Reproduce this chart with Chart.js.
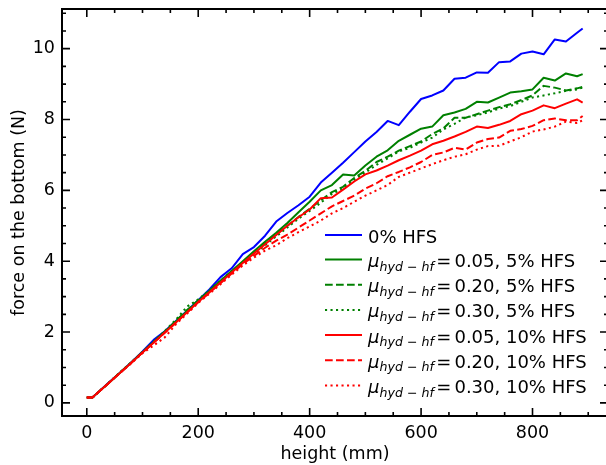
<!DOCTYPE html>
<html>
<head>
<meta charset="utf-8">
<script src="https://cdn.jsdelivr.net/npm/chart.js@4.4.0/dist/chart.umd.min.js"></script>
<style>
html, body { margin: 0; padding: 0; overflow: hidden; background: #fff; }
#wrap { width: 614px; height: 465px; }
</style>
</head>
<body>
<div id="wrap"><canvas id="chart" width="614" height="465"></canvas></div>
<script>
// heights (mm) shared by every curve
const heights = [0, 10, 20, 40, 60, 80, 100, 120, 140, 160, 180, 200, 220, 240, 260, 280,
  300, 320, 340, 360, 380, 400, 420, 440, 460, 480, 500, 520, 540, 560, 580,
  600, 620, 640, 660, 680, 700, 720, 740, 760, 780, 800, 820, 840, 860, 880, 890];

// force on the bottom (N)
const hfs0 = [0.15, 0.15, 0.29, 0.58, 0.86, 1.15, 1.45, 1.78, 2.02, 2.31, 2.60, 2.90, 3.20, 3.55, 3.80, 4.20,
  4.40, 4.72, 5.12, 5.36, 5.58, 5.82, 6.22, 6.50, 6.78, 7.08, 7.38, 7.65, 7.96, 7.84, 8.22,
  8.58, 8.68, 8.82, 9.15, 9.18, 9.33, 9.32, 9.62, 9.64, 9.86, 9.92, 9.84, 10.26, 10.20, 10.45, 10.57];
const mu05hfs5 = [0.15, 0.15, 0.29, 0.57, 0.86, 1.14, 1.43, 1.72, 2.01, 2.30, 2.59, 2.88, 3.16, 3.45, 3.72, 4.00,
  4.28, 4.55, 4.80, 5.08, 5.38, 5.68, 6.00, 6.15, 6.45, 6.42, 6.70, 6.95, 7.13, 7.40, 7.57,
  7.74, 7.80, 8.12, 8.20, 8.30, 8.50, 8.48, 8.62, 8.76, 8.80, 8.85, 9.18, 9.10, 9.30, 9.22, 9.28];
const mu20hfs5 = [0.15, 0.15, 0.29, 0.57, 0.86, 1.14, 1.43, 1.72, 2.01, 2.32, 2.62, 2.90, 3.16, 3.44, 3.70, 3.98,
  4.25, 4.50, 4.76, 5.00, 5.25, 5.48, 5.72, 5.95, 6.10, 6.35, 6.55, 6.80, 6.95, 7.12, 7.25,
  7.38, 7.59, 7.75, 8.05, 8.05, 8.15, 8.25, 8.35, 8.43, 8.55, 8.68, 8.95, 8.90, 8.82, 8.88, 8.92];
const mu30hfs5 = [0.15, 0.15, 0.29, 0.58, 0.87, 1.15, 1.44, 1.73, 2.03, 2.35, 2.72, 2.92, 3.18, 3.45, 3.72, 3.96,
  4.20, 4.45, 4.70, 4.95, 5.20, 5.42, 5.65, 5.90, 6.05, 6.30, 6.50, 6.72, 6.90, 7.10, 7.20,
  7.35, 7.49, 7.72, 7.88, 8.06, 8.12, 8.20, 8.31, 8.38, 8.50, 8.62, 8.68, 8.74, 8.81, 8.85, 8.90];
const mu05hfs10 = [0.15, 0.15, 0.29, 0.57, 0.85, 1.13, 1.42, 1.70, 1.99, 2.27, 2.56, 2.85, 3.12, 3.40, 3.68, 3.95,
  4.22, 4.48, 4.74, 5.00, 5.24, 5.46, 5.78, 5.80, 6.02, 6.25, 6.45, 6.56, 6.70, 6.85, 6.98,
  7.12, 7.30, 7.40, 7.52, 7.65, 7.80, 7.76, 7.85, 7.96, 8.15, 8.25, 8.40, 8.32, 8.45, 8.57, 8.48];
const mu20hfs10 = [0.15, 0.15, 0.29, 0.57, 0.85, 1.13, 1.42, 1.70, 1.98, 2.26, 2.55, 2.84, 3.11, 3.38, 3.65, 3.92,
  4.15, 4.38, 4.58, 4.75, 4.95, 5.15, 5.35, 5.55, 5.70, 5.85, 6.05, 6.20, 6.40, 6.52, 6.65,
  6.80, 7.00, 7.07, 7.20, 7.15, 7.35, 7.45, 7.49, 7.68, 7.73, 7.82, 7.98, 8.03, 7.98, 7.98, 8.10];
const mu30hfs10 = [0.15, 0.15, 0.29, 0.57, 0.85, 1.12, 1.40, 1.62, 1.85, 2.22, 2.52, 2.82, 3.08, 3.35, 3.62, 3.88,
  4.10, 4.30, 4.45, 4.65, 4.82, 4.98, 5.15, 5.35, 5.50, 5.68, 5.85, 6.00, 6.15, 6.38, 6.50,
  6.62, 6.74, 6.85, 6.95, 7.02, 7.15, 7.25, 7.26, 7.38, 7.50, 7.66, 7.72, 7.80, 7.94, 7.90, 7.98];

// legend texts: friction coefficient (null = none) and the rest of the label
const muTexts = [null, '0.05', '0.20', '0.30', '0.05', '0.20', '0.30'];
const hfsTexts = ['0% HFS', '5% HFS', '5% HFS', '5% HFS', '10% HFS', '10% HFS', '10% HFS'];

const xTicks = [0, 200, 400, 600, 800];
const yTicks = [0, 2, 4, 6, 8, 10];

const FONT = 'DejaVu Sans';
const TICK_SIZE = 17.5;
const DASHED = [7.7, 3.3];
const DOTTED = [2.1, 3.4];

const series = [hfs0, mu05hfs5, mu20hfs5, mu30hfs5, mu05hfs10, mu20hfs10, mu30hfs10];
const colors = ['#0000ff', '#008000', '#008000', '#008000', '#ff0000', '#ff0000', '#ff0000'];
const dashes = [[], [], DASHED, DOTTED, [], DASHED, DOTTED];

let datasets = [];
series.forEach(function (vals, i) {
  datasets.push({
    label: muTexts[i] ? 'μ_hyd−hf = ' + muTexts[i] + ', ' + hfsTexts[i] : hfsTexts[i],
    data: vals.map(function (v, k) { return {x: heights[k], y: v}; }),
    borderColor: colors[i],
    borderWidth: 2,
    borderDash: dashes[i],
    borderCapStyle: 'butt',
    borderJoinStyle: 'round',
    pointRadius: 0,
    tension: 0,
    fill: false,
    order: series.length - i   // first curve drawn underneath, like matplotlib
  });
});

// frame with inward ticks on all four sides, plus tick labels
const framePlugin = {
  id: 'frame',
  afterDraw(chart) {
    const ctx = chart.ctx, a = chart.chartArea, x = chart.scales.x, y = chart.scales.y;
    ctx.save();
    ctx.strokeStyle = '#000';
    ctx.setLineDash([]);
    ctx.beginPath();
    for (let v = 0; v <= 900; v += 50) {
      const p = x.getPixelForValue(v);
      const len = xTicks.includes(v) ? 8 : 4;
      ctx.moveTo(p, a.bottom); ctx.lineTo(p, a.bottom - len);
      ctx.moveTo(p, a.top); ctx.lineTo(p, a.top + len);
    }
    for (let v = 0; v <= 11; v += 0.5) {
      const p = y.getPixelForValue(v);
      const len = yTicks.includes(v) ? 8 : 4;
      ctx.moveTo(a.left, p); ctx.lineTo(a.left + len, p);
      ctx.moveTo(a.right, p); ctx.lineTo(a.right - len, p);
    }
    ctx.lineWidth = 1.6;
    ctx.stroke();
    ctx.lineWidth = 2;
    ctx.strokeRect(a.left, a.top, a.right - a.left, a.bottom - a.top);

    ctx.fillStyle = '#000';
    ctx.font = TICK_SIZE + 'px "' + FONT + '"';
    ctx.textAlign = 'center';
    ctx.textBaseline = 'alphabetic';
    xTicks.forEach(function (v) { ctx.fillText(String(v), x.getPixelForValue(v), a.bottom + 21.5); });
    ctx.textAlign = 'right';
    ctx.textBaseline = 'middle';
    yTicks.forEach(function (v) { ctx.fillText(String(v), a.left - 7, y.getPixelForValue(v)); });
    ctx.restore();
  }
};

// legend drawn like the matplotlib one (mathtext subscript)
const legendPlugin = {
  id: 'mplLegend',
  afterDatasetsDraw(chart) {
    const ctx = chart.ctx;
    const size = 18;
    const sub = 12.6;
    ctx.save();
    ctx.fillStyle = '#000';
    ctx.textBaseline = 'alphabetic';
    chart.data.datasets.forEach(function (ds, i) {
      const ly = i === 0 ? 235 : 259.5 + (i - 1) * 25.2;
      ctx.strokeStyle = ds.borderColor;
      ctx.lineWidth = 2;
      ctx.lineCap = 'butt';
      ctx.setLineDash(ds.borderDash);
      ctx.beginPath(); ctx.moveTo(325, ly); ctx.lineTo(362, ly); ctx.stroke();
      ctx.setLineDash([]);
      const base = ly + 7.5;
      let tx = 368;
      if (muTexts[i]) {
        ctx.font = 'italic ' + size + 'px "' + FONT + '"';
        ctx.fillText('μ', tx, base);
        tx += ctx.measureText('μ').width;
        ctx.font = 'italic ' + sub + 'px "' + FONT + '"';
        ctx.fillText('hyd', tx, base + 3.5);
        tx += ctx.measureText('hyd').width + 4;
        ctx.font = sub + 'px "' + FONT + '"';
        ctx.fillText('−', tx, base + 3.5);
        tx += ctx.measureText('−').width + 4;
        ctx.font = 'italic ' + sub + 'px "' + FONT + '"';
        ctx.fillText('hf', tx, base + 3.5);
        tx += ctx.measureText('hf').width + 2.5;
        ctx.font = size + 'px "' + FONT + '"';
        ctx.fillText('=', tx, base);
        tx += ctx.measureText('=').width + 3;
        ctx.fillText(muTexts[i] + ', ' + hfsTexts[i], tx, base);
      } else {
        ctx.font = size + 'px "' + FONT + '"';
        ctx.fillText(hfsTexts[i], tx, base);
      }
    });
    ctx.restore();
  }
};

Chart.defaults.font.family = FONT;
Chart.defaults.font.size = TICK_SIZE;
Chart.defaults.color = '#000';

new Chart(document.getElementById('chart'), {
  type: 'line',
  data: { datasets: datasets },
  options: {
    responsive: false,
    animation: false,
    devicePixelRatio: 1,
    layout: { padding: { left: 0, top: 9, right: 6, bottom: 0 } },
    plugins: { legend: { display: false }, tooltip: { enabled: false } },
    scales: {
      x: {
        type: 'linear', min: -44.5, max: 935.5,
        grid: { display: false, drawTicks: false }, border: { display: false },
        afterBuildTicks: function (s) { s.ticks = xTicks.map(function (v) { return {value: v}; }); },
        afterFit: function (s) { s.height = 49; },
        ticks: { display: false },
        title: { display: true, text: 'height (mm)', color: '#000', padding: { top: 0, bottom: 0 } }
      },
      y: {
        type: 'linear', min: -0.37, max: 11.12,
        grid: { display: false, drawTicks: false }, border: { display: false },
        afterBuildTicks: function (s) { s.ticks = yTicks.map(function (v) { return {value: v}; }); },
        afterFit: function (s) { s.width = 62; },
        ticks: { display: false },
        title: { display: true, text: 'force on the bottom (N)', color: '#000', padding: { top: 9, bottom: 0 } }
      }
    }
  },
  plugins: [framePlugin, legendPlugin]
});
</script>
</body>
</html>
